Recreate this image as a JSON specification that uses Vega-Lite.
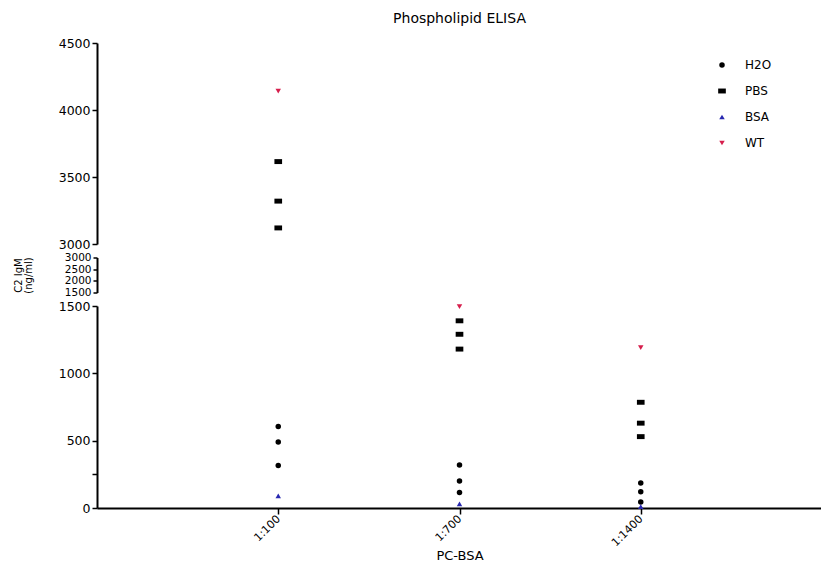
{
  "$schema": "https://vega.github.io/schema/vega-lite/v6.json",
  "background": "white",
  "padding": {"left": 13, "right": 0, "top": 12, "bottom": 0},
  "spacing": 13.5,
  "bounds": "flush",
  "config": {
    "font": "DejaVu Sans",
    "view": {"stroke": null},
    "axis": {
      "domainColor": "black", "domainWidth": 2, "tickColor": "black", "tickWidth": 1.5, "tickSize": 5,
      "labelColor": "black", "labelFont": "DejaVu Sans", "labelFontSize": 12.5, "labelPadding": 2,
      "grid": false, "titleFont": "DejaVu Sans", "titleFontWeight": "normal", "titleColor": "black"
    },
    "legend": {
      "labelFont": "DejaVu Sans", "labelFontSize": 12, "labelColor": "black",
      "rowPadding": 14, "labelOffset": 17, "symbolSize": 30, "symbolStrokeWidth": 0
    },
    "title": {"font": "DejaVu Sans", "fontSize": 14, "fontWeight": "normal", "color": "black"}
  },
  "datasets": {
    "d": [
      {"dilution": "1:100", "group": "WT", "igm": 4140},
      {"dilution": "1:100", "group": "PBS", "igm": 3615},
      {"dilution": "1:100", "group": "PBS", "igm": 3320},
      {"dilution": "1:100", "group": "PBS", "igm": 3120},
      {"dilution": "1:100", "group": "H2O", "igm": 605},
      {"dilution": "1:100", "group": "H2O", "igm": 490},
      {"dilution": "1:100", "group": "H2O", "igm": 315},
      {"dilution": "1:100", "group": "BSA", "igm": 90},
      {"dilution": "1:700", "group": "WT", "igm": 1495},
      {"dilution": "1:700", "group": "PBS", "igm": 1390},
      {"dilution": "1:700", "group": "PBS", "igm": 1290},
      {"dilution": "1:700", "group": "PBS", "igm": 1180},
      {"dilution": "1:700", "group": "H2O", "igm": 320},
      {"dilution": "1:700", "group": "H2O", "igm": 200},
      {"dilution": "1:700", "group": "H2O", "igm": 115},
      {"dilution": "1:700", "group": "BSA", "igm": 30},
      {"dilution": "1:1400", "group": "WT", "igm": 1190},
      {"dilution": "1:1400", "group": "PBS", "igm": 785},
      {"dilution": "1:1400", "group": "PBS", "igm": 630},
      {"dilution": "1:1400", "group": "PBS", "igm": 530},
      {"dilution": "1:1400", "group": "H2O", "igm": 185},
      {"dilution": "1:1400", "group": "H2O", "igm": 120},
      {"dilution": "1:1400", "group": "H2O", "igm": 45},
      {"dilution": "1:1400", "group": "BSA", "igm": 10}
    ]
  },
  "resolve": {
    "scale": {"color": "independent", "shape": "independent"},
    "legend": {"color": "independent", "shape": "independent"}
  },
  "vconcat": [
    {
      "title": {"text": "Phospholipid ELISA", "frame": "group", "anchor": "middle", "offset": 11},
      "width": 725,
      "height": 201,
      "data": {"name": "d"},
      "transform": [{"filter": "datum.igm >= 3000"}],
      "mark": {"type": "point", "filled": true, "opacity": 1, "size": 30},
      "encoding": {
        "x": {"field": "dilution", "type": "nominal", "scale": {"type": "point", "padding": 1, "domain": ["1:100", "1:700", "1:1400"]}, "axis": null},
        "y": {"field": "igm", "type": "quantitative", "scale": {"domain": [3000, 4500], "nice": false, "zero": false},
              "axis": {"values": [3000, 3500, 4000, 4500], "format": "d", "title": null}},
        "color": {"field": "group", "type": "nominal",
                  "scale": {"domain": ["H2O", "PBS", "BSA", "WT"], "range": ["#000000", "#000000", "#2828b0", "#d61e4c"]},
                  "legend": {"title": null, "orient": "none", "legendX": 619, "legendY": 16}},
        "shape": {"field": "group", "type": "nominal",
                  "scale": {"domain": ["H2O", "PBS", "BSA", "WT"], "range": ["circle", "M-1.4,-0.9H1.4V0.9H-1.4Z", "triangle-up", "triangle-down"]},
                  "legend": {"title": null, "orient": "none", "legendX": 619, "legendY": 16}}
      }
    },
    {
      "width": 725,
      "height": 35,
      "data": {"name": "d"},
      "transform": [{"filter": "datum.igm > 1500 && datum.igm < 3000"}],
      "mark": {"type": "point", "filled": true, "size": 30},
      "encoding": {
        "x": {"field": "dilution", "type": "nominal", "scale": {"type": "point", "padding": 1, "domain": ["1:100", "1:700", "1:1400"]}, "axis": null},
        "y": {"field": "igm", "type": "quantitative", "scale": {"domain": [1500, 3000], "nice": false, "zero": false},
              "axis": {"values": [1500, 2000, 2500, 3000], "format": "d", "labelFontSize": 10.5, "tickSize": 4,
                       "title": ["C2 IgM", "(ng/ml)"], "titleFontSize": 10, "titlePadding": 31, "titleLineHeight": 10}}
      }
    },
    {
      "width": 725,
      "height": 202,
      "data": {"name": "d"},
      "transform": [{"filter": "datum.igm <= 1500"}],
      "mark": {"type": "point", "filled": true, "opacity": 1, "size": 30},
      "encoding": {
        "x": {"field": "dilution", "type": "nominal", "scale": {"type": "point", "padding": 1, "domain": ["1:100", "1:700", "1:1400"]},
              "axis": {"labelAngle": -45, "labelAlign": "right", "labelBaseline": "middle", "labelFontSize": 11, "labelPadding": 3, "tickSize": 6,
                       "title": "PC-BSA", "titleFontSize": 13, "titlePadding": 2}},
        "y": {"field": "igm", "type": "quantitative", "scale": {"domain": [0, 1500], "nice": false},
              "axis": {"values": [0, 250, 500, 1000, 1500], "format": "d", "labelExpr": "datum.value == 250 ? '' : datum.label", "title": null}},
        "color": {"field": "group", "type": "nominal",
                  "scale": {"domain": ["H2O", "PBS", "BSA", "WT"], "range": ["#000000", "#000000", "#2828b0", "#d61e4c"]},
                  "legend": null},
        "shape": {"field": "group", "type": "nominal",
                  "scale": {"domain": ["H2O", "PBS", "BSA", "WT"], "range": ["circle", "M-1.4,-0.9H1.4V0.9H-1.4Z", "triangle-up", "triangle-down"]},
                  "legend": null}
      }
    }
  ]
}
